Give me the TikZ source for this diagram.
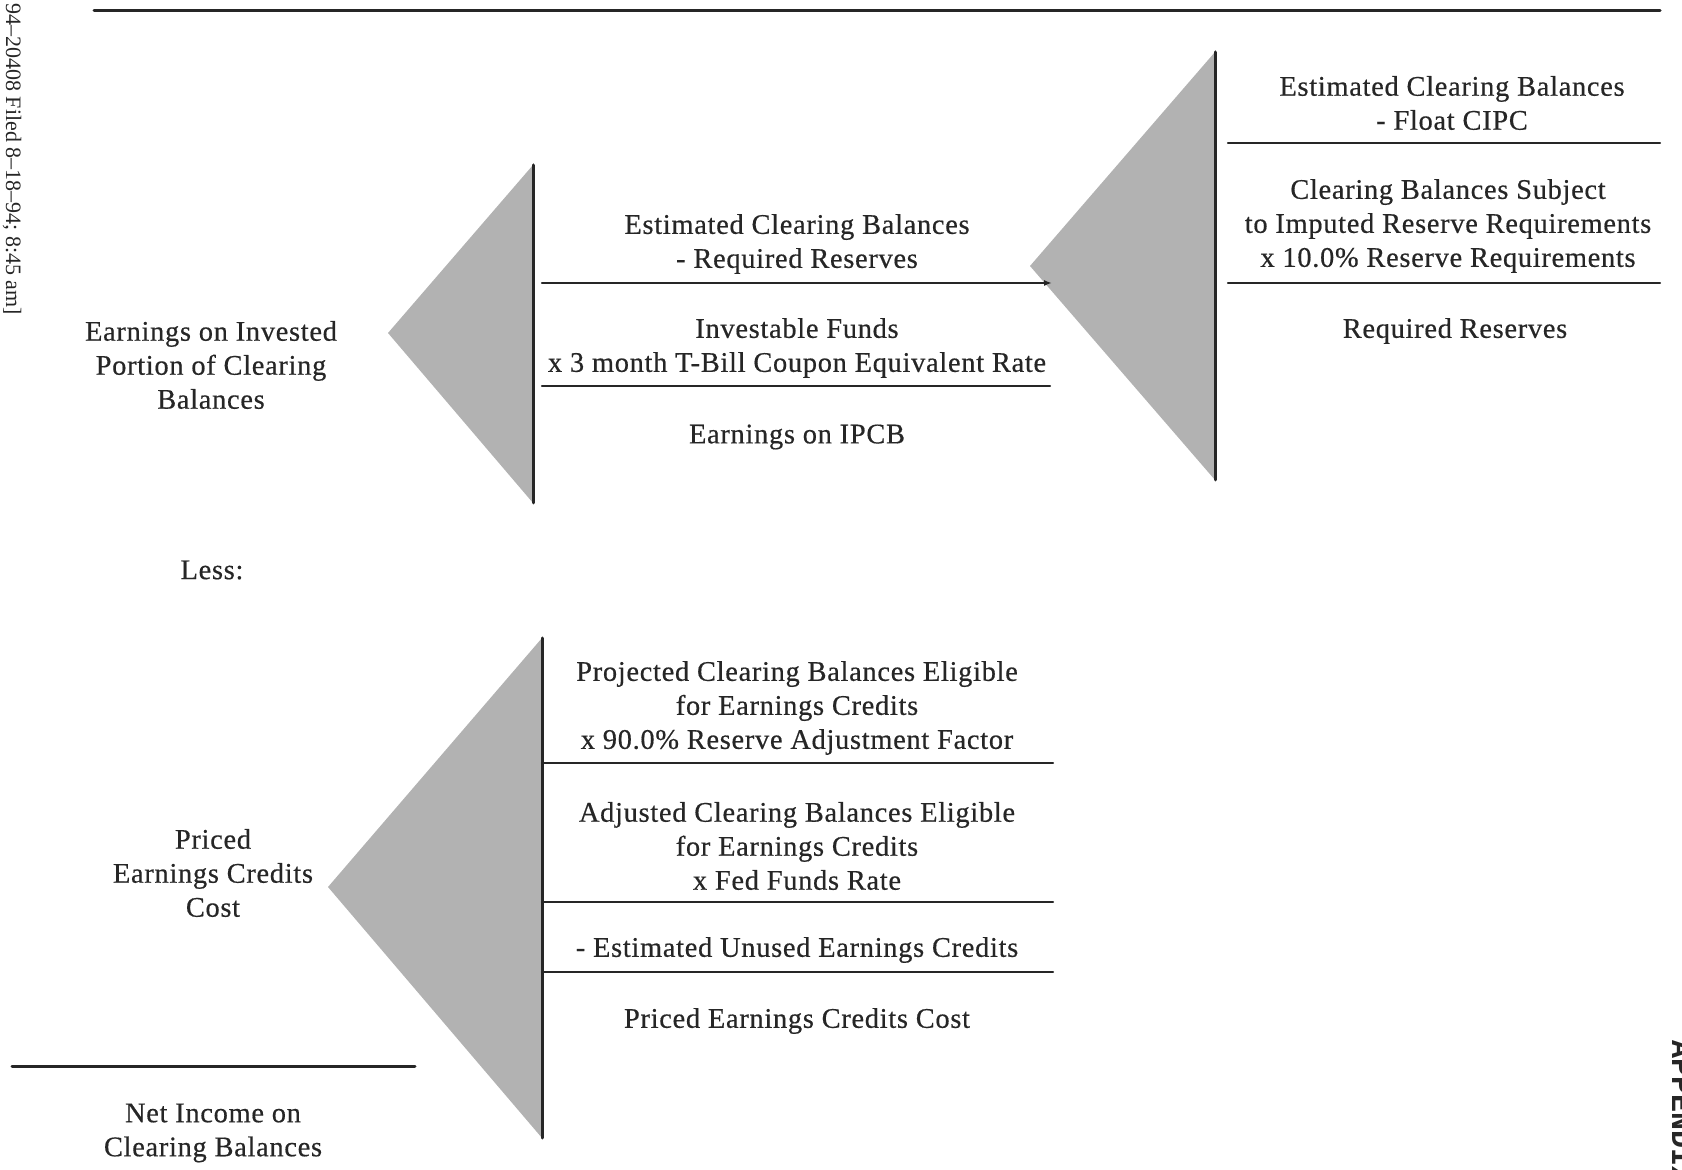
\documentclass[tikz,border=0pt]{standalone}
\usepackage{fontspec}
\setmainfont{Liberation Serif}[LetterSpace=2.5,FakeBold=0.5]
\newfontfamily\notefont{Liberation Serif}[Ligatures=TeX]
\newfontfamily\tagfont{Liberation Mono}[BoldFont={Liberation Mono Bold}]
\usetikzlibrary{arrows.meta}

\begin{document}
\begin{tikzpicture}[x=0.5pt,y=-0.5pt,line cap=round,
		lbl/.style={align=center,inner sep=0pt,text=black!85,font=\fontsize{14.2}{17}\selectfont},
		rule/.style={line width=1.2pt,draw=black!85},
		wedge/.style={fill=black!30}]
	\useasboundingbox (0,0) rectangle (1682,1170);
	% shaded wedges: apex, then the upright edge
	\foreach \ax/\ay/\vx/\vt/\vb in {388/333/533/165/503,1030/266/1215/52/480,328/887/542/638/1138} {
		\fill[wedge] (\ax,\ay) -- (\vx,\vt) -- (\vx,\vb) -- cycle;
		\draw[rule,line width=1.5pt] (\vx,\vt) -- (\vx,\vb);
	}
	\draw[rule,line width=1.5pt] (94,11) -- (1660,11);
	\draw[rule,-{Latex[length=4pt,width=3pt]}] (542,283) -- (1052,283);
	\draw[rule] (542,386) -- (1050,386);
	\foreach \y in {143,283} \draw[rule] (1228,\y) -- (1660,\y);
	\foreach \y in {763,902,972} \draw[rule] (542,\y) -- (1053,\y);
	\draw[rule,line width=1.5pt] (12,1066) -- (415,1066);
	% right column
	\node[lbl] (estfloat) at (1452,103) {Estimated Clearing Balances\\- Float CIPC};
	\node[lbl] (subject) at (1448,226) {Clearing Balances Subject\\to Imputed Reserve Requirements\\x 10.0\% Reserve Requirements};
	\node[lbl] (reqres) at (1455,331) {Required Reserves};
	% middle column
	\node[lbl] (estreq) at (797,244) {Estimated Clearing Balances\\- Required Reserves};
	\node[lbl] (invest) at (797,348) {Investable Funds\\x 3 month T-Bill Coupon Equivalent Rate};
	\node[lbl] (ipcb) at (797,437) {Earnings on IPCB};
	% lower column
	\node[lbl] (projected) at (797,708) {Projected Clearing Balances Eligible\\for Earnings Credits\\x 90.0\% Reserve Adjustment Factor};
	\node[lbl] (adjusted) at (797,846) {Adjusted Clearing Balances Eligible\\for Earnings Credits\\x Fed Funds Rate};
	\node[lbl] (unused) at (797,950) {- Estimated Unused Earnings Credits};
	\node[lbl] (pecc) at (797,1021) {Priced Earnings Credits Cost};
	% left side
	\node[lbl] (earnings) at (211,365) {Earnings on Invested\\Portion of Clearing\\Balances};
	\node[lbl] (less) at (212,570) {Less:};
	\node[lbl] (priced) at (213,873) {Priced\\Earnings Credits\\Cost};
	\node[lbl] (net) at (213,1133) {Net Income on\\Clearing Balances};
	% margin notes
	\node[lbl,rotate=-90,anchor=west,font=\notefont\fontsize{11}{12}\selectfont] (filed) at (12,3) {94--20408 Filed 8--18--94; 8:45 am]};
	\node[lbl,rotate=-90,anchor=base west,font=\tagfont\bfseries\fontsize{15}{18}\selectfont] (appendix) at (1672,1040) {APPENDIX};
\end{tikzpicture}
\end{document}
